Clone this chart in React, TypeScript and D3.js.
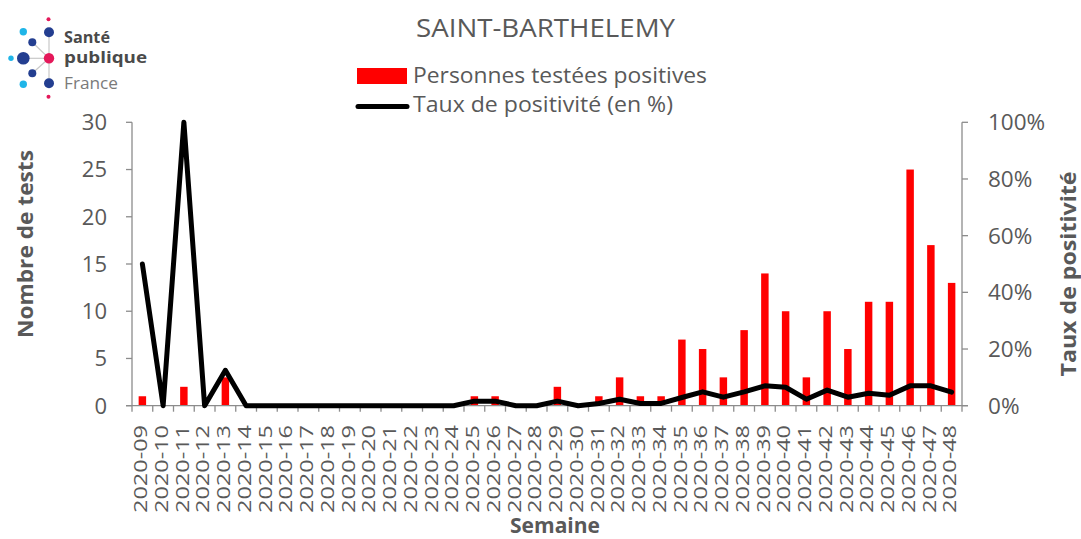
import React from "react";
import * as d3 from "d3";

const weeks: string[] = [
  "2020-09","2020-10","2020-11","2020-12","2020-13","2020-14","2020-15","2020-16","2020-17","2020-18",
  "2020-19","2020-20","2020-21","2020-22","2020-23","2020-24","2020-25","2020-26","2020-27","2020-28",
  "2020-29","2020-30","2020-31","2020-32","2020-33","2020-34","2020-35","2020-36","2020-37","2020-38",
  "2020-39","2020-40","2020-41","2020-42","2020-43","2020-44","2020-45","2020-46","2020-47","2020-48",
];
const positives: number[] = [
  1, 0, 2, 0, 3, 0, 0, 0, 0, 0,
  0, 0, 0, 0, 0, 0, 1, 1, 0, 0,
  2, 0, 1, 3, 1, 1, 7, 6, 3, 8,
  14, 10, 3, 10, 6, 11, 11, 25, 17, 13,
];
const positivityPct: number[] = [
  50, 0, 100, 0, 12.5, 0, 0, 0, 0, 0,
  0, 0, 0, 0, 0, 0, 1.6, 1.6, 0, 0,
  1.6, 0, 0.8, 2.3, 0.8, 0.8, 2.9, 4.9, 3, 4.9,
  7, 6.5, 2.3, 5.5, 3, 4.4, 3.7, 7, 7, 4.8,
];
const leftTicks: number[] = [0, 5, 10, 15, 20, 25, 30];
const rightTicks: number[] = [0, 20, 40, 60, 80, 100];

const FONT = "'Open Sans', 'Liberation Sans', sans-serif";
const GREY = "#595959";
const AXIS = "#8c8c8c";

export default function App() {
  const W = 1081, H = 539;
  const left = 132, right = 962, top = 122.3, bottom = 405.7;
  const x = d3.scaleBand<string>().domain(weeks).range([left, right]).padding(0);
  const yL = d3.scaleLinear().domain([0, 30]).range([bottom, top]);
  const yR = d3.scaleLinear().domain([0, 100]).range([bottom, top]);
  const bw = x.bandwidth() * 0.36;
  const cx = (w: string) => (x(w) as number) + x.bandwidth() / 2;

  const line = d3
    .line<number>()
    .x((_, i) => cx(weeks[i]))
    .y((d) => yR(d))
    .curve(d3.curveLinear);

  const boundaries = d3.range(weeks.length + 1).map((i) => left + i * x.step());

  return (
    <svg
      width={W}
      height={H}
      style={{ position: "absolute", left: 0, top: 0, background: "#fff" }}
      fontFamily={FONT}
    >
      <rect x={0} y={0} width={W} height={H} fill="#fff" />

      {/* Logo */}
      <g>
        <g stroke="#c8c8c8" strokeWidth={1.2}>
          <line x1={49} y1={32} x2={49} y2={84} />
          <line x1={49} y1={58.3} x2={32.3} y2={42.3} />
          <line x1={49} y1={58.3} x2={23.3} y2={58.3} />
          <line x1={49} y1={58.3} x2={32.3} y2={73.3} />
        </g>
        <circle cx={48.5} cy={19.3} r={2} fill="#e4185a" />
        <circle cx={49} cy={32.3} r={5} fill="#233e90" />
        <circle cx={23.3} cy={31.7} r={3.7} fill="#1fb5e8" />
        <circle cx={32.3} cy={42.3} r={4} fill="#233e90" />
        <circle cx={23.3} cy={58.3} r={6.3} fill="#233e90" />
        <circle cx={11} cy={58.3} r={2.7} fill="#1fb5e8" />
        <circle cx={49} cy={58.3} r={5.2} fill="#e4185a" />
        <circle cx={32.3} cy={73.3} r={4} fill="#233e90" />
        <circle cx={23.3} cy={84.3} r={3.7} fill="#1fb5e8" />
        <circle cx={49} cy={83.3} r={5} fill="#233e90" />
        <circle cx={48.5} cy={96.7} r={2} fill="#e4185a" />
        <text x={64} y={42.5} fontFamily="'Open Sans', sans-serif" fontSize={15.5} fontWeight={700} fill="#4a4a4a" textLength={46} lengthAdjust="spacingAndGlyphs">Santé</text>
        <text x={64} y={63} fontFamily="'Open Sans', sans-serif" fontSize={15.5} fontWeight={700} fill="#4a4a4a" textLength={83} lengthAdjust="spacingAndGlyphs">publique</text>
        <text x={64} y={89} fontFamily="'Open Sans', sans-serif" fontSize={16} fontWeight={400} fill="#7a7a7a" textLength={54} lengthAdjust="spacingAndGlyphs">France</text>
      </g>

      {/* Title */}
      <text x={545.5} y={37} textAnchor="middle" fontSize={25} fill={GREY} textLength={259} lengthAdjust="spacingAndGlyphs">SAINT-BARTHELEMY</text>

      {/* Legend */}
      <rect x={357} y={68} width={50} height={16} fill="#ff0000" />
      <text x={413} y={83} fontSize={22} fill={GREY} textLength={294} lengthAdjust="spacingAndGlyphs">Personnes testées positives</text>
      <line x1={358} y1={106.5} x2={407} y2={106.5} stroke="#000" strokeWidth={5} strokeLinecap="round" />
      <text x={413} y={112} fontSize={22} fill={GREY} textLength={260} lengthAdjust="spacingAndGlyphs">Taux de positivité (en %)</text>

      {/* Bars */}
      {weeks.map((w, i) => (
        <rect
          key={w}
          x={cx(w) - bw / 2}
          y={yL(positives[i])}
          width={bw}
          height={bottom - yL(positives[i])}
          fill="#ff0000"
        />
      ))}

      {/* Axes */}
      <g stroke={AXIS} strokeWidth={1.3} fill="none">
        <line x1={left} y1={top} x2={left} y2={bottom} />
        {leftTicks.map((t) => (
          <line key={t} x1={left - 6} x2={left} y1={yL(t)} y2={yL(t)} />
        ))}
        <line x1={right} y1={top} x2={right} y2={bottom} />
        {rightTicks.map((t) => (
          <line key={t} x1={right} x2={right + 6} y1={yR(t)} y2={yR(t)} />
        ))}
        <line x1={left - 6} y1={bottom} x2={right + 6} y2={bottom} />
        {boundaries.map((b, i) => (
          <line key={i} x1={b} x2={b} y1={bottom} y2={bottom + 6} />
        ))}
      </g>

      {/* Line */}
      <path d={line(positivityPct) || ""} fill="none" stroke="#000" strokeWidth={5} strokeLinejoin="round" strokeLinecap="round" />

      {/* Left tick labels */}
      {leftTicks.map((t) => (
        <text key={t} x={107} y={yL(t)} dy="0.36em" textAnchor="end" fontSize={22} fill={GREY}>{t}</text>
      ))}
      {/* Right tick labels */}
      {rightTicks.map((t) => (
        <text key={t} x={988} y={yR(t)} dy="0.36em" textAnchor="start" fontSize={22.5} fill={GREY}>{t}%</text>
      ))}

      {/* X tick labels */}
      {weeks.map((w) => (
        <text
          key={w}
          transform={`translate(${cx(w) - 1.5},425) rotate(-90)`}
          dy="0.36em"
          textAnchor="end"
          fontSize={17.5}
          fill={GREY}
          textLength={88}
          lengthAdjust="spacingAndGlyphs"
        >
          {w}
        </text>
      ))}

      {/* Axis titles */}
      <text transform="translate(25,244) rotate(-90)" dy="0.36em" textAnchor="middle" fontSize={22} fontWeight={700} fill={GREY} textLength={188} lengthAdjust="spacingAndGlyphs">Nombre de tests</text>
      <text transform="translate(1068,274) rotate(-90)" dy="0.36em" textAnchor="middle" fontSize={22} fontWeight={700} fill={GREY} textLength={205} lengthAdjust="spacingAndGlyphs">Taux de positivité</text>
      <text x={555} y={533} textAnchor="middle" fontSize={21} fontWeight={700} fill={GREY}>Semaine</text>
    </svg>
  );
}
